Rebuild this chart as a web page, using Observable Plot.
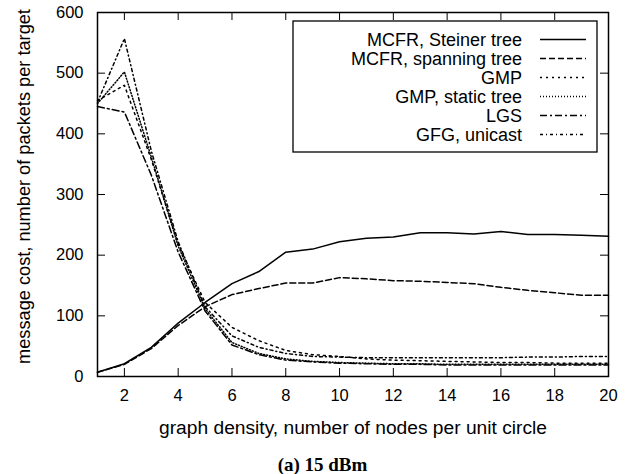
<!DOCTYPE html>
<html><head><meta charset="utf-8">
<script src="https://cdn.jsdelivr.net/npm/d3@7"></script>
<script src="https://cdn.jsdelivr.net/npm/@observablehq/plot@0.6"></script>
<style>
body{margin:0;background:#fff;overflow:hidden}
#cap{width:635px;text-align:center;font-family:"Liberation Serif","DejaVu Serif",serif;font-weight:bold;font-size:19px;line-height:18px;padding-top:6px;color:#000;padding-left:10px;box-sizing:border-box}
</style>
</head><body><div id="chart"></div><div id="cap"></div>
<script>
const density = [1,2,3,4,5,6,7,8,9,10,11,12,13,14,15,16,17,18,19,20];
const seriesNames = ["MCFR, Steiner tree","MCFR, spanning tree","GMP","GMP, static tree","LGS","GFG, unicast"];
const steiner   = [7,21,48,88,122,153,173,205,210,222,228,230,237,237,235,239,234,234,233,231];
const spanning  = [7,20,46,84,115,135,145,154,154,163,161,158,157,155,153,147,142,138,134,134];
const gmp       = [455,480,358,218,122,81,59,43,36,33,29,27,26,25,24,23,23,22,22,22];
const gmpStatic = [450,502,362,215,112,56,38,29,25,23,22,21,21,20,20,20,20,20,20,20];
const lgs       = [445,436,332,205,108,52,36,27,24,22,21,20,20,19,19,19,19,19,19,19];
const gfg       = [452,557,372,222,115,67,48,38,33,32,31,31,31,31,31,31,32,32,33,33];
const xTicks = [2,4,6,8,10,12,14,16,18,20];
const yTicks = [0,100,200,300,400,500,600];
const xTitle = "graph density, number of nodes per unit circle";
const yTitle = "message cost, number of packets per target";
const caption = "(a) 15 dBm";

const valueLists = [steiner, spanning, gmp, gmpStatic, lgs, gfg];
const dashes = ["none","6,3","2,4","1,2","7,3,2,3","3,3,1,3"];

const W = 635, H = 450, mL = 97, mR = 27, mT = 12, mB = 74;
const fw = W - mL - mR, fh = H - mT - mB, tl = 8;

const lineMarks = seriesNames.map((s, i) =>
  Plot.line(density.map((x, j) => ({x, y: valueLists[i][j]})),
    {x: "x", y: "y", stroke: "black", strokeWidth: 1.5, strokeDasharray: dashes[i]}));

const chart = Plot.plot({
  width: W, height: H,
  marginLeft: mL, marginRight: mR, marginTop: mT, marginBottom: mB,
  style: {fontFamily: "'Liberation Sans', Arial, sans-serif", fontSize: "16.5px", color: "black", background: "white"},
  x: {domain: [1, 20]},
  y: {domain: [0, 600]},
  marks: [
    ...lineMarks,
    Plot.tickX(xTicks, {x: d => d, stroke: "black", strokeWidth: 1, insetTop: fh - tl}),
    Plot.tickX(xTicks, {x: d => d, stroke: "black", strokeWidth: 1, insetBottom: fh - tl}),
    Plot.tickY(yTicks, {y: d => d, stroke: "black", strokeWidth: 1, insetRight: fw - tl}),
    Plot.tickY(yTicks, {y: d => d, stroke: "black", strokeWidth: 1, insetLeft: fw - tl}),
    Plot.axisX(xTicks, {tickSize: 0, tickPadding: 13, fontSize: 16.5, label: null}),
    Plot.axisY(yTicks, {tickSize: 0, tickPadding: 14, fontSize: 16.5, label: null}),
    Plot.frame({stroke: "black", strokeWidth: 1.5}),
    Plot.text([xTitle], {text: d => d, frameAnchor: "bottom", dy: 51, lineAnchor: "middle", fontSize: 19.2}),
    Plot.text([yTitle], {text: d => d, frameAnchor: "left", textAnchor: "middle", dx: -73, dy: -8, rotate: -90, lineAnchor: "middle", fontSize: 18.2})
  ]
});
document.getElementById("chart").appendChild(chart);

// legend
const svg = d3.select(chart);
const lg = svg.append("g");
lg.append("rect").attr("x", 293).attr("y", 21).attr("width", 304).attr("height", 131)
  .attr("fill", "white").attr("stroke", "black").attr("stroke-width", 1.3);
seriesNames.forEach((s, i) => {
  const cy = 39.5 + i * 19;
  lg.append("text").attr("x", 522).attr("y", cy).attr("dy", "0.35em").attr("text-anchor", "end")
    .attr("font-size", 18).attr("fill", "black").text(s);
  lg.append("line").attr("x1", 540).attr("x2", 586).attr("y1", cy).attr("y2", cy)
    .attr("stroke", "black").attr("stroke-width", 1.5).attr("stroke-dasharray", dashes[i] === "none" ? null : dashes[i]);
});
document.getElementById("cap").textContent = caption;
</script>
</body></html>
